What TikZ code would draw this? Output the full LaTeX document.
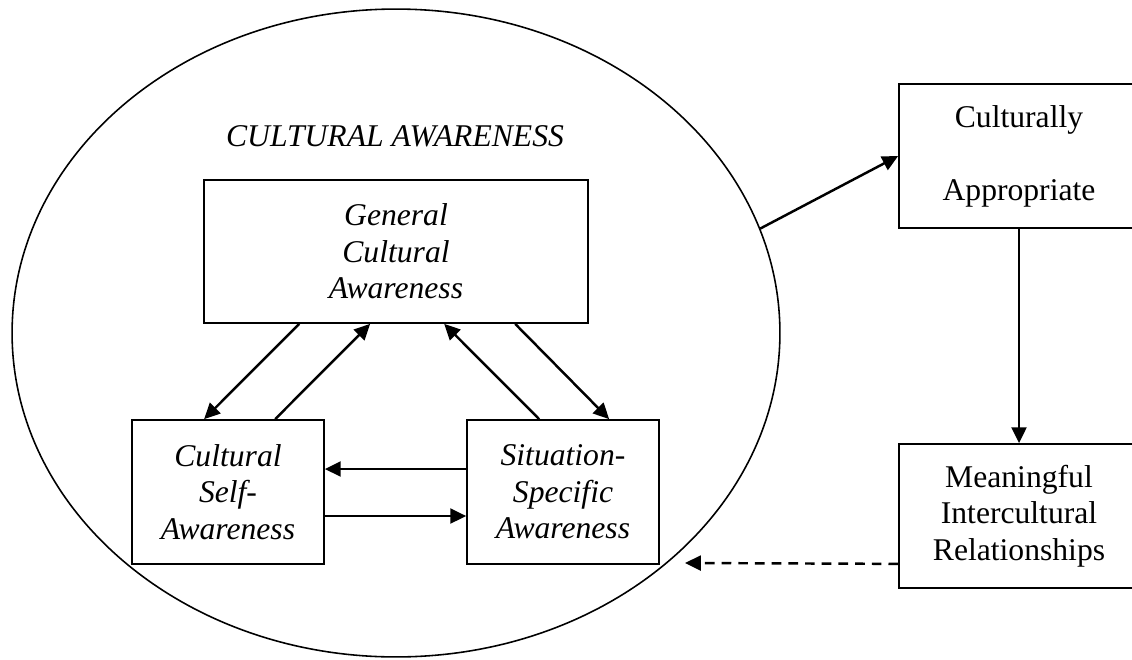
\documentclass[tikz,border=0pt]{standalone}
\usepackage{fontspec}
\setmainfont{Liberation Serif}
\usetikzlibrary{arrows.meta,shapes.geometric,calc}

\begin{document}
\begin{tikzpicture}[x=0.02cm,y=-0.02cm,
  txt/.style={font=\fontsize{18}{20.8}\selectfont},
  itxt/.style={font=\fontsize{18}{20.8}\selectfont\itshape},
  box/.style={draw,line width=1pt,align=center,inner sep=0pt},
  arr/.style={line width=1.4pt,-{Triangle[length=9pt,width=8.5pt]}}]

\useasboundingbox (0,0) rectangle (1132,659);
\clip (0,0) rectangle (1132,659);

% 外側の楕円
\node[draw,ellipse,line width=0.9pt,minimum width=15.36cm,minimum height=12.96cm,inner sep=0pt] (aware) at (396,333) {};
\node[itxt,anchor=base] (title) at (395,146) {CULTURAL AWARENESS};

% 楕円の中の箱
\node[box,itxt,minimum width=7.68cm,minimum height=2.86cm] (gca) at (396,251.5) {General\\Cultural\\Awareness};
\node[box,itxt,minimum width=3.84cm,minimum height=2.88cm] (csa) at (228,492) {Cultural\\Self-\\Awareness};
\node[box,itxt,minimum width=3.84cm,minimum height=2.88cm] (ssa) at (563,492) {Situation-\\Specific\\Awareness};

% 右側の箱(右端は図の外)
\node[box,minimum width=5.6cm,minimum height=2.88cm] (ca) at (1039,156) {};
\node[txt,align=center] (catext) at (1019,156) {Culturally\\[20.8pt]Appropriate};
\node[box,minimum width=5.6cm,minimum height=2.88cm] (mir) at (1039,516) {};
\node[txt,align=center] (mirtext) at (1019,516) {Meaningful\\Intercultural\\Relationships};

% 矢印(箱の間)
\draw[arr] ($(gca.south west)+(96,0)$) -- ($(csa.north west)+(73,0)$);
\draw[arr] ($(csa.north west)+(144,0)$) -- ($(gca.south west)+(167,0)$);
\draw[arr] ($(ssa.north west)+(73,0)$) -- ($(gca.south west)+(241,0)$);
\draw[arr] ($(gca.south west)+(312,0)$) -- ($(ssa.north west)+(143,0)$);

\draw[arr] ($(ssa.west)+(0,-23)$) -- ($(csa.east)+(0,-23)$);
\draw[arr] ($(csa.east)+(0,24)$) -- ($(ssa.west)+(0,24)$);

% 矢印(右側)
\draw[arr] (aware.16.5) -- (ca.west);
\draw[arr] (catext |- ca.south) -- (catext |- mir.north);

\coordinate (back) at (685,563);
\draw[arr,dash pattern=on 5.5pt off 4pt] ($(mir.south west)+(0,-25)$) -- (back);
\end{tikzpicture}
\end{document}
